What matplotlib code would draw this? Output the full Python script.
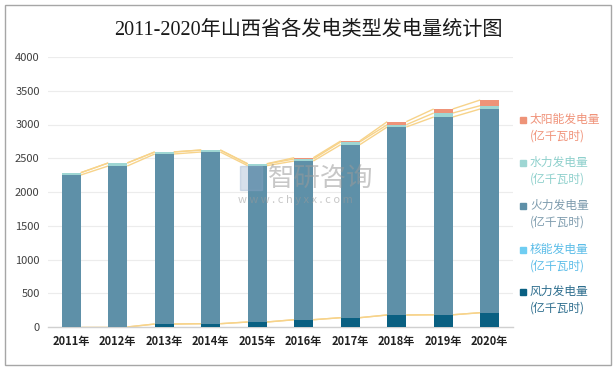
import matplotlib
matplotlib.use("Agg")
import matplotlib.pyplot as plt
import numpy as np
from matplotlib.patches import Rectangle

plt.rcParams['font.family'] = ['Noto Sans CJK SC', 'DejaVu Sans']

years = ['2011年', '2012年', '2013年', '2014年', '2015年', '2016年', '2017年', '2018年', '2019年', '2020年']
wind = [0, 0, 44, 49, 74, 108, 138, 178, 181, 212]
nuclear = [0, 0, 0, 0, 0, 0, 0, 0, 0, 0]
thermal = [2252, 2385, 2519, 2544, 2316, 2351, 2563, 2785, 2930, 3018]
hydro = [34, 45, 30, 29, 25, 30, 40, 34, 59, 49]
solar = [0, 0, 0, 0, 4, 19, 15, 45, 60, 84]

series = [
    ('风力发电量\n(亿千瓦时)', wind, '#0A6082', '#2E6E8E'),
    ('核能发电量\n(亿千瓦时)', nuclear, '#6FCDF2', '#5CBDE8'),
    ('火力发电量\n(亿千瓦时)', thermal, '#5E90A8', '#7E9CAE'),
    ('水力发电量\n(亿千瓦时)', hydro, '#9ED6D3', '#8ED0CC'),
    ('太阳能发电量\n(亿千瓦时)', solar, '#EE9378', '#F0937A'),
]

W, H = 616, 369
fig = plt.figure(figsize=(W / 100, H / 100), dpi=100)
ax = fig.add_axes([48 / W, 1 - 327 / H, (513 - 48) / W, (327 - 57) / H])

x = np.arange(len(years))
bw = 0.41
bottom = np.zeros(len(years))
line_color = '#F7D38A'
for name, vals, col, tcol in series:
    v = np.array(vals, dtype=float)
    ax.bar(x, v, bw, bottom=bottom, color=col, zorder=3, linewidth=0)
    top = bottom + v
    for i in range(len(years) - 1):
        ax.plot([x[i] + bw / 2, x[i + 1] - bw / 2], [top[i], top[i + 1]],
                color=line_color, lw=1.0, zorder=2, solid_capstyle='butt')
    bottom = top

ax.set_xlim(-0.5, len(years) - 0.5)
ax.set_ylim(0, 4000)
ax.set_yticks(np.arange(0, 4001, 500))
ax.set_yticklabels([str(v) for v in range(0, 4001, 500)])
ax.set_xticks(x)
ax.set_xticklabels(years, fontweight='bold')
ax.tick_params(axis='y', length=0, labelsize=8, colors='#404040', pad=6)
ax.tick_params(axis='x', length=0, labelsize=8, colors='#222222', pad=6)
ax.grid(axis='y', color='#ECECEC', lw=0.8, zorder=0)
for s in ['top', 'right', 'left']:
    ax.spines[s].set_visible(False)
ax.spines['bottom'].set_color('#D0D0D0')
ax.spines['bottom'].set_linewidth(1.0)
ax.set_axisbelow(True)

# title
fig.text(308 / W, 1 - 30 / H, '2011-2020年山西省各发电类型发电量统计图',
         ha='center', va='center', fontsize=14.5, color='#1a1a1a',
         family=['Liberation Serif', 'Noto Sans CJK SC'])

# legend (top to bottom order)
legend_y = [120, 163, 206, 250, 292]
for (name, vals, col, tcol), yy in zip(series[::-1], legend_y):
    fig.patches.append(Rectangle((520 / W, 1 - (yy + 3) / H), 6 / W, 6 / H,
                                 transform=fig.transFigure, color=col))
    fig.text(530 / W, 1 - (yy - 7) / H, name, ha='left', va='top',
             fontsize=8.5, color=tcol, linespacing=1.35)

# watermark
fig.text(268 / W, 1 - 178 / H, '智研咨询', ha='left', va='center',
         fontsize=19, color='#9a9a9a', alpha=0.55)
fig.text(238 / W, 1 - 200 / H, 'w w w . c h y x x . c o m', ha='left', va='center',
         fontsize=8, color='#9a9a9a', alpha=0.55)
fig.patches.append(Rectangle((240 / W, 1 - 190 / H), 22 / W, 24 / H,
                             transform=fig.transFigure, color='#8fa8c8', alpha=0.35))

# border
fig.patches.append(Rectangle((4.5 / W, 1 - 364.5 / H), 606 / W, 360 / H,
                             transform=fig.transFigure, fill=False,
                             edgecolor='#A6A6A6', lw=1.0))

fig.savefig('out.png', dpi=100)
